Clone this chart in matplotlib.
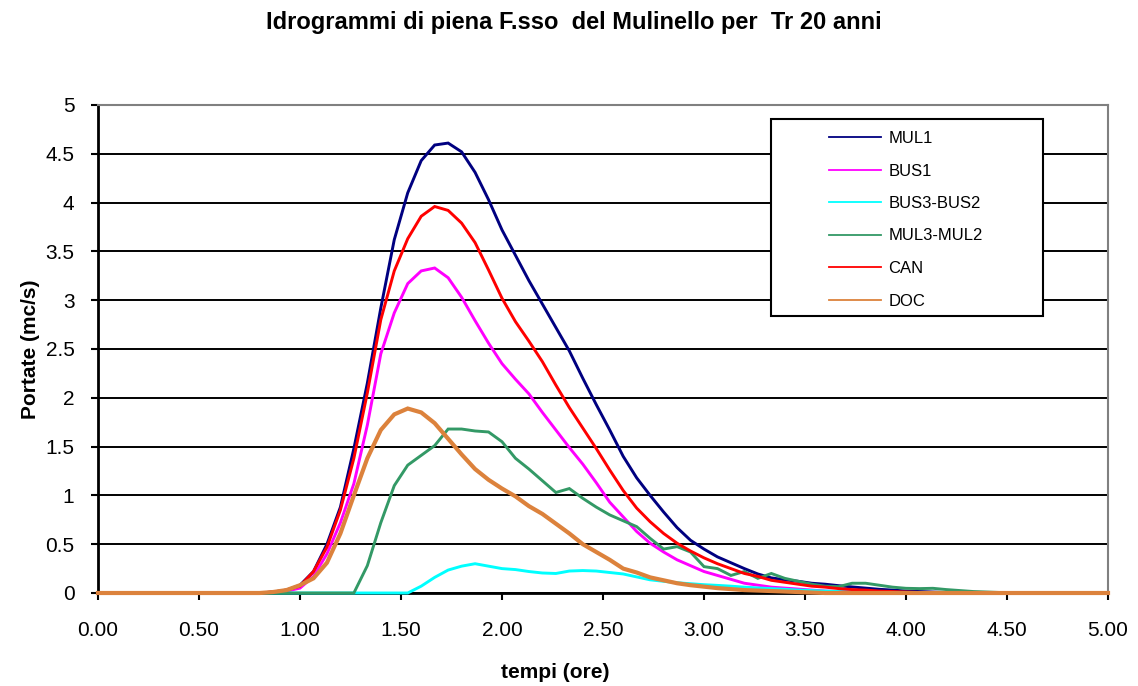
import matplotlib
matplotlib.use("Agg")
import matplotlib.pyplot as plt
from matplotlib.lines import Line2D
from matplotlib.patches import Rectangle
from matplotlib.ticker import FuncFormatter, MultipleLocator

plt.rcParams['font.family'] = ['Liberation Sans', 'DejaVu Sans']

# time steps of the hydrographs (minutes)
minuti = [0, 4, 8, 12, 16, 20, 24, 28, 32, 36, 40, 44, 48, 52, 56, 60,
          64, 68, 72, 76, 80, 84, 88, 92, 96, 100, 104, 108, 112, 116, 120,
          124, 128, 132, 136, 140, 144, 148, 152, 156, 160, 164, 168, 172,
          176, 180, 184, 188, 192, 196, 200, 204, 208, 212, 216, 220, 224,
          228, 232, 236, 240, 244, 248, 252, 256, 260, 264, 268, 272, 276,
          280, 284, 288, 292, 296, 300]

# discharges (mc/s)
mul1 = [0] * 13 + [0.01, 0.03, 0.08, 0.22, 0.5, 0.88, 1.48, 2.15, 2.92, 3.62,
                   4.1, 4.43, 4.59, 4.61, 4.52, 4.31, 4.03, 3.72, 3.46, 3.2,
                   2.96, 2.72, 2.48, 2.2, 1.93, 1.67, 1.40, 1.18, 1.0, 0.83,
                   0.67, 0.54, 0.45, 0.37, 0.31, 0.25, 0.195, 0.155, 0.135,
                   0.12, 0.1, 0.09, 0.075, 0.062, 0.05, 0.038, 0.03, 0.02,
                   0.015, 0.01, 0.005] + [0] * 12
bus1 = [0] * 13 + [0.01, 0.02, 0.05, 0.17, 0.4, 0.72, 1.12, 1.72, 2.45, 2.87,
                   3.17, 3.30, 3.33, 3.23, 3.03, 2.79, 2.56, 2.35, 2.19, 2.04,
                   1.85, 1.67, 1.49, 1.32, 1.13, 0.93, 0.78, 0.63, 0.51, 0.42,
                   0.34, 0.28, 0.22, 0.18, 0.14, 0.1, 0.08, 0.06, 0.05, 0.04,
                   0.03, 0.02, 0.015, 0.01, 0.005] + [0] * 18
bus3_bus2 = [0] * 24 + [0.07, 0.16, 0.235, 0.275, 0.3, 0.275, 0.25, 0.24,
                        0.22, 0.205, 0.2, 0.225, 0.23, 0.225, 0.21, 0.195,
                        0.165, 0.135, 0.12, 0.105, 0.095, 0.085, 0.078, 0.07,
                        0.06, 0.052, 0.045, 0.038, 0.03, 0.025, 0.02, 0.015,
                        0.01, 0.005] + [0] * 18
mul3_mul2 = [0] * 19 + [0.0, 0.28, 0.72, 1.1, 1.31, 1.41, 1.51, 1.68, 1.68,
                        1.66, 1.65, 1.55, 1.38, 1.27, 1.15, 1.03, 1.07, 0.97,
                        0.88, 0.80, 0.74, 0.68, 0.56, 0.45, 0.475, 0.42, 0.27,
                        0.25, 0.18, 0.22, 0.15, 0.2, 0.15, 0.12, 0.09, 0.07,
                        0.065, 0.1, 0.1, 0.08, 0.06, 0.048, 0.045, 0.048,
                        0.035, 0.025, 0.015, 0.01, 0.005] + [0] * 8
can = [0] * 13 + [0.01, 0.03, 0.07, 0.22, 0.47, 0.85, 1.38, 2.05, 2.8, 3.3,
                  3.63, 3.86, 3.96, 3.92, 3.79, 3.59, 3.31, 3.02, 2.78, 2.58,
                  2.37, 2.13, 1.9, 1.69, 1.48, 1.26, 1.05, 0.87, 0.73, 0.61,
                  0.51, 0.43, 0.36, 0.3, 0.25, 0.2, 0.17, 0.13, 0.11, 0.09,
                  0.07, 0.06, 0.045, 0.035, 0.03, 0.02, 0.015, 0.01,
                  0.005] + [0] * 14
doc = [0] * 13 + [0.01, 0.03, 0.08, 0.15, 0.31, 0.61, 1.0, 1.38, 1.67, 1.83,
                  1.89, 1.85, 1.74, 1.58, 1.42, 1.27, 1.16, 1.07, 0.99, 0.89,
                  0.81, 0.71, 0.61, 0.5, 0.42, 0.34, 0.25, 0.21, 0.16, 0.13,
                  0.1, 0.08, 0.065, 0.05, 0.04, 0.03, 0.025, 0.02, 0.015,
                  0.01, 0.005] + [0] * 22

nomi = ["MUL1", "BUS1", "BUS3-BUS2", "MUL3-MUL2", "CAN", "DOC"]
colori = ["#000080", "#FF00FF", "#00FFFF", "#339966", "#FF0000", "#DC823C"]
spessori = [2.1, 2.1, 2.1, 2.1, 2.1, 3.0]
serie = [mul1, bus1, bus3_bus2, mul3_mul2, can, doc]

ore = [m / 60 for m in minuti]

fig = plt.figure(figsize=(11.38, 6.86), dpi=100)
ax = fig.add_axes([98 / 1138, 93 / 686, 1010 / 1138, 488 / 686])

for valori, colore, lw in zip(serie, colori, spessori):
    ax.plot(ore, valori, color=colore, lw=lw, clip_on=False, zorder=3,
            solid_joinstyle='miter')

ax.set_xlim(0, 5)
ax.set_ylim(0, 5)
ax.xaxis.set_major_locator(MultipleLocator(0.5))
ax.yaxis.set_major_locator(MultipleLocator(0.5))
ax.xaxis.set_major_formatter(FuncFormatter(lambda v, p: f"{v:.2f}"))
ax.yaxis.set_major_formatter(FuncFormatter(lambda v, p: f"{v:g}"))
ax.tick_params(axis='both', direction='out', length=5, width=1.5,
               labelsize=15, color='black')
ax.tick_params(axis='x', pad=15)
ax.tick_params(axis='y', pad=12)

ax.yaxis.grid(True, color='black', lw=1.4)
ax.set_axisbelow(True)
ax.get_ygridlines()[-1].set_visible(False)

for lato in ('top', 'right'):
    ax.spines[lato].set_color('#808080')
    ax.spines[lato].set_linewidth(1.5)
for lato in ('left', 'bottom'):
    ax.spines[lato].set_color('black')
    ax.spines[lato].set_linewidth(2)

ax.set_xlabel("tempi (ore)", fontsize=15, fontweight='bold')
ax.xaxis.set_label_coords((555 - 98) / 1010, -(672 - 593) / 488)
ax.xaxis.label.set_va('center')
ax.set_ylabel("Portate (mc/s)", fontsize=15, fontweight='bold')
ax.yaxis.set_label_coords(-(98 - 30) / 1010, 0.5)
ax.yaxis.label.set_va('center')
fig.text(573.5 / 1138, 1 - 22 / 686,
         "Idrogrammi di piena F.sso  del Mulinello per  Tr 20 anni",
         ha='center', va='center', fontsize=17, fontweight='bold')

# legend box
box = Rectangle((771 / 1138, 1 - 316 / 686), 272 / 1138, 197 / 686,
                transform=fig.transFigure, facecolor='white', edgecolor='black',
                lw=1.5, zorder=4, clip_on=False)
ax.add_patch(box)
maniglie = [Line2D([], [], color=c, lw=1.3) for c in colori]
leg = ax.legend(maniglie, nomi, loc='upper left',
                bbox_to_anchor=(829 / 1138, 1 - 131 / 686),
                bbox_transform=fig.transFigure, frameon=False, fontsize=12,
                handlelength=3.1, handletextpad=0.45, labelspacing=1.05,
                borderpad=0, borderaxespad=0)
leg.set_zorder(5)

fig.savefig("out.png", dpi=100)
